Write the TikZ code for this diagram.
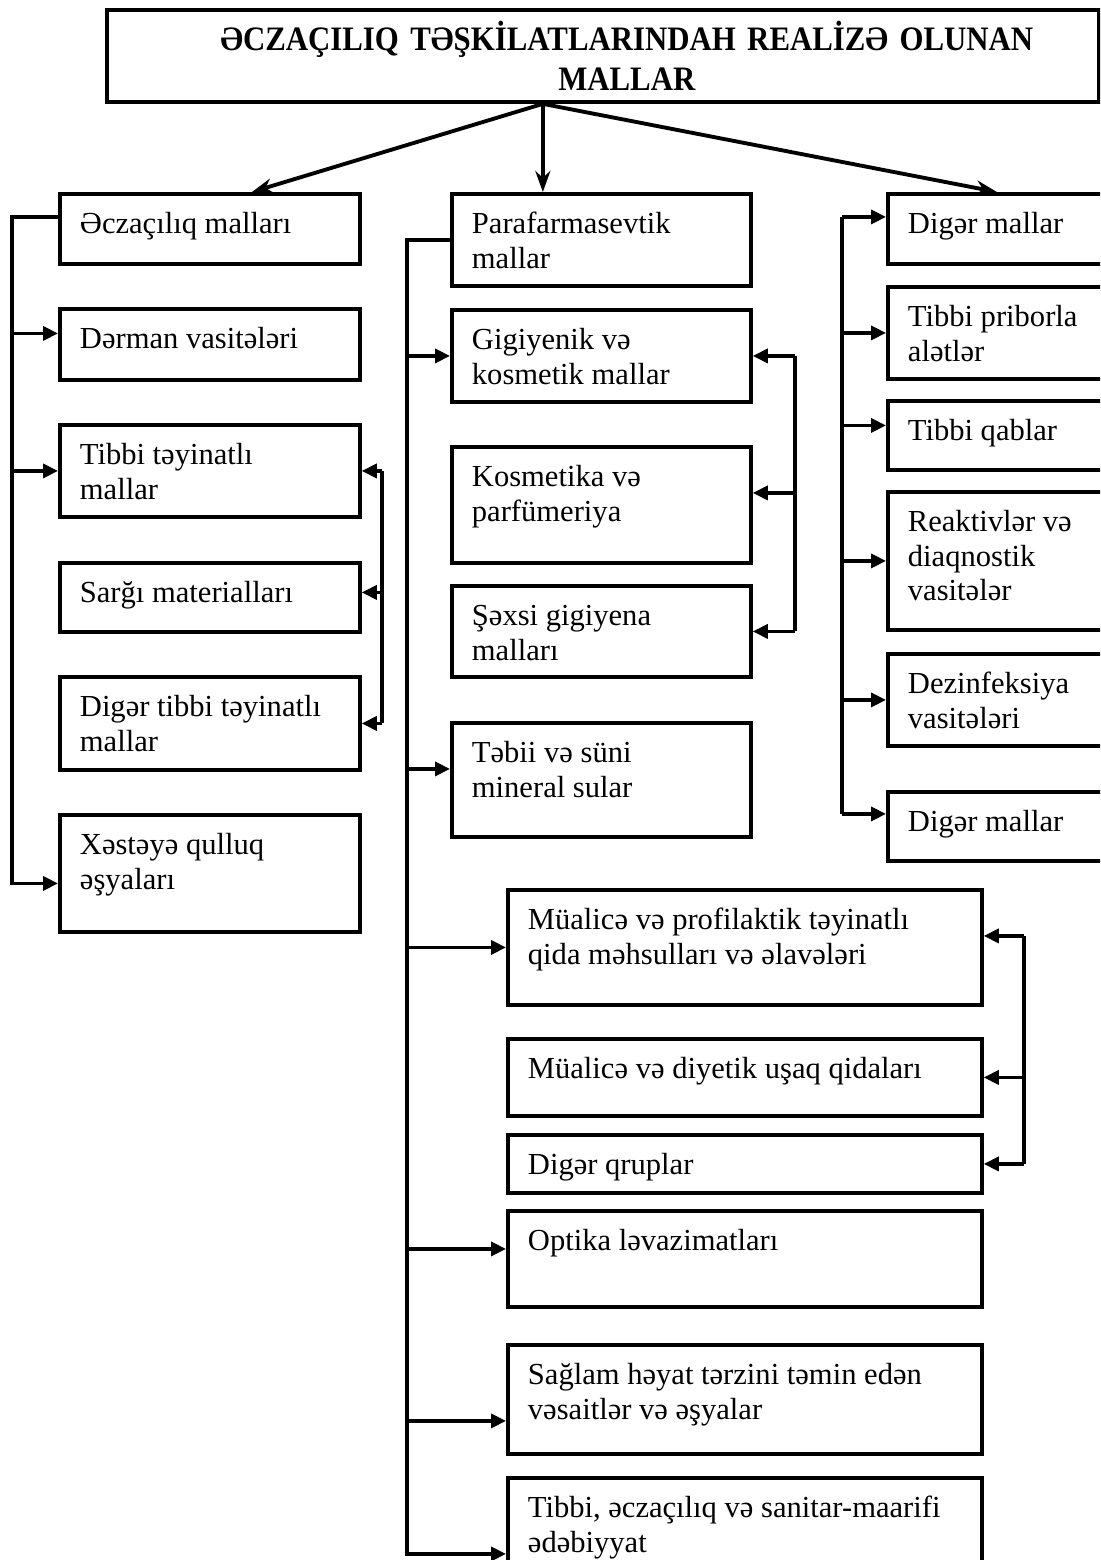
\documentclass[tikz,border=0pt]{standalone}
\usepackage{fontspec}
\setmainfont{Liberation Serif}
\newfontfamily\titlefam[FakeStretch=0.9]{Liberation Serif}
\usetikzlibrary{arrows.meta}

\newcommand{\boxfont}{\fontsize{17.4pt}{19.8pt}\selectfont}
\newcommand{\cell}[3]{\parbox[c][#2][t]{#1}{\raggedright\vspace*{8.5pt}\strut#3}}

\tikzset{
  box/.style={draw, line width=2.2pt, anchor=north west, inner xsep=0.4cm, inner ysep=0pt, font=\boxfont},
  conn/.style={line width=2pt},
  arr/.style={conn, -{Triangle[length=0.3cm,width=0.28cm]}},
  toparr/.style={line width=2.2pt, -{Stealth[length=0.42cm,width=0.3cm]}},
}

\begin{document}
\begin{tikzpicture}[x=0.02cm, y=-0.02cm]
  \useasboundingbox (0,0) rectangle (1100,1560);
  \clip (0,0) rectangle (1100,1560);

  % title
  \node[draw, line width=2.2pt, anchor=north west, text width=19.84cm, minimum height=1.84cm,
        inner sep=0pt, align=center, font=\titlefam\bfseries\fontsize{19.5pt}{22.7pt}\selectfont]
        (top) at (105,8) {\hspace*{0.96cm}ƏCZAÇILIQ TƏŞKİLATLARINDAH REALİZƏ OLUNAN\\\hspace*{0.96cm}MALLAR};

  % left column
  \node[box] (ecz) at (58,192) {\cell{5.2cm}{1.4cm}{Əczaçılıq malları}};
  \node[box] (der) at (58,307) {\cell{5.2cm}{1.42cm}{Dərman vasitələri}};
  \node[box] (tib) at (58,423) {\cell{5.2cm}{1.84cm}{Tibbi təyinatlı\\mallar}};
  \node[box] (sar) at (58,561) {\cell{5.2cm}{1.38cm}{Sarğı materialları}};
  \node[box] (dtm) at (58,675) {\cell{5.2cm}{1.86cm}{Digər tibbi təyinatlı\\mallar}};
  \node[box] (xes) at (58,813) {\cell{5.2cm}{2.34cm}{Xəstəyə qulluq\\əşyaları}};

  % middle column
  \node[box] (para) at (450,192) {\cell{5.18cm}{1.84cm}{Parafarmasevtik\\mallar}};
  \node[box] (gig)  at (450,308) {\cell{5.18cm}{1.84cm}{Gigiyenik və\\kosmetik mallar}};
  \node[box] (kos)  at (450,445) {\cell{5.18cm}{2.32cm}{Kosmetika və\\parfümeriya}};
  \node[box] (sex)  at (450,584) {\cell{5.18cm}{1.82cm}{Şəxsi gigiyena\\malları}};
  \node[box] (teb)  at (450,721) {\cell{5.18cm}{2.28cm}{Təbii və süni\\mineral sular}};

  % lower middle
  \node[box] (mua) at (506,888)  {\cell{8.68cm}{2.3cm}{Müalicə və profilaktik təyinatlı\\qida məhsulları və əlavələri}};
  \node[box] (udq) at (506,1037) {\cell{8.68cm}{1.54cm}{Müalicə və diyetik uşaq qidaları}};
  \node[box] (dqr) at (506,1133) {\cell{8.68cm}{1.16cm}{Digər qruplar}};
  \node[box] (opt) at (506,1209) {\cell{8.68cm}{1.92cm}{Optika ləvazimatları}};
  \node[box] (sag) at (506,1343) {\cell{8.68cm}{2.18cm}{Sağlam həyat tərzini təmin edən\\vəsaitlər və əşyalar}};
  \node[box] (tsm) at (506,1476) {\cell{8.68cm}{3.04cm}{Tibbi, əczaçılıq və sanitar-maarifi\\ədəbiyyat}};

  % right column
  \node[box] (dm1) at (886,192) {\cell{5.2cm}{1.4cm}{Digər mallar}};
  \node[box] (tpr) at (886,285) {\cell{5.2cm}{1.84cm}{Tibbi priborla\\alətlər}};
  \node[box] (tqa) at (886,399) {\cell{5.2cm}{1.38cm}{Tibbi qablar}};
  \node[box] (rea) at (886,490) {\cell{5.2cm}{2.76cm}{Reaktivlər və\\diaqnostik\\vasitələr}};
  \node[box] (dez) at (886,652) {\cell{5.2cm}{1.84cm}{Dezinfeksiya\\vasitələri}};
  \node[box] (dm2) at (886,790) {\cell{5.2cm}{1.38cm}{Digər mallar}};

  % from title
  \coordinate (src) at ([xshift=-1.2cm]top.south);
  \draw[toparr] (src) -- ([xshift=0.84cm]ecz.north);
  \draw[toparr] (src) -- (src |- para.north);
  \draw[toparr] (src) -- ([xshift=-0.82cm]dm1.north);

  % left bus
  \coordinate (lb) at (12,0);
  \draw[arr] ([yshift=0.24cm]ecz.west) -- ([yshift=0.24cm]ecz.west -| lb) |- ([yshift=-0.2cm]xes.west);
  \draw[arr] ([yshift=0.22cm]der.west -| lb) -- ([yshift=0.22cm]der.west);
  \draw[arr] (tib.west -| lb) -- (tib.west);

  % left bracket
  \coordinate (lk) at (382,0);
  \draw[arr] (tib.east -| lk) -- (tib.east);
  \draw[arr] ([yshift=0.1cm]sar.east -| lk) -- ([yshift=0.1cm]sar.east);
  \draw[arr] (dtm.east -| lk) -- (dtm.east);
  \draw[conn] (tib.east -| lk) -- (dtm.east -| lk);

  % middle bus
  \coordinate (mb) at (407,0);
  \draw[arr] (para.west) -- (para.west -| mb) |- (tsm.west);
  \draw[arr] (gig.west -| mb) -- (gig.west);
  \draw[arr] ([yshift=0.22cm]teb.west -| mb) -- ([yshift=0.22cm]teb.west);
  \draw[arr] (mua.west -| mb) -- (mua.west);
  \draw[arr] ([yshift=0.2cm]opt.west -| mb) -- ([yshift=0.2cm]opt.west);
  \draw[arr] ([yshift=-0.43cm]sag.west -| mb) -- ([yshift=-0.43cm]sag.west);

  % middle bracket
  \coordinate (mk) at (795,0);
  \draw[arr] (gig.east -| mk) -- (gig.east);
  \draw[arr] ([yshift=0.24cm]kos.east -| mk) -- ([yshift=0.24cm]kos.east);
  \draw[arr] (sex.east -| mk) -- (sex.east);
  \draw[conn] (gig.east -| mk) -- (sex.east -| mk);

  % lower bracket
  \coordinate (dk) at (1024,0);
  \draw[arr] ([yshift=0.23cm]mua.east -| dk) -- ([yshift=0.23cm]mua.east);
  \draw[arr] (udq.east -| dk) -- (udq.east);
  \draw[arr] (dqr.east -| dk) -- (dqr.east);
  \draw[conn] ([yshift=0.23cm]mua.east -| dk) -- (dqr.east -| dk);

  % right bus
  \coordinate (rb) at (842,0);
  \draw[arr] ([yshift=0.24cm]dm1.west -| rb) -- ([yshift=0.24cm]dm1.west);
  \draw[arr] (tpr.west -| rb) -- (tpr.west);
  \draw[arr] ([yshift=0.2cm]tqa.west -| rb) -- ([yshift=0.2cm]tqa.west);
  \draw[arr] (rea.west -| rb) -- (rea.west);
  \draw[arr] (dez.west -| rb) -- (dez.west);
  \draw[arr] ([yshift=0.25cm]dm2.west -| rb) -- ([yshift=0.25cm]dm2.west);
  \draw[conn] ([yshift=0.24cm]dm1.west -| rb) -- ([yshift=0.25cm]dm2.west -| rb);
\end{tikzpicture}
\end{document}
